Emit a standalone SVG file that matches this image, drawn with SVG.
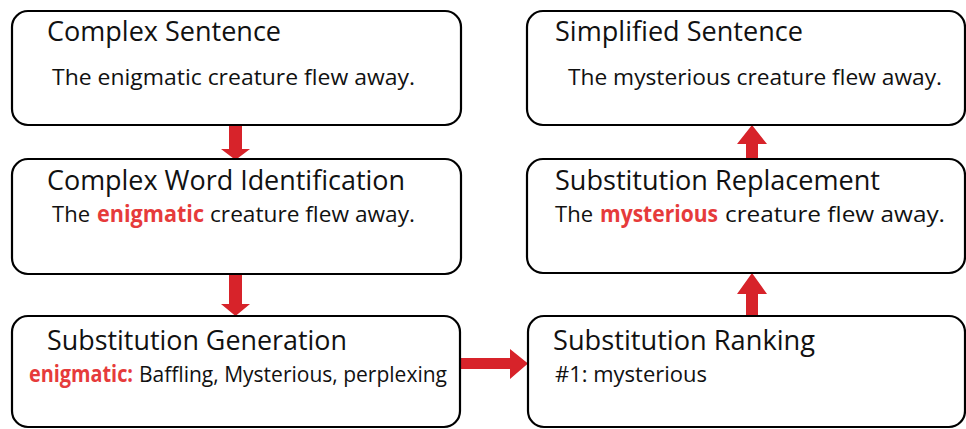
<svg xmlns="http://www.w3.org/2000/svg" width="966" height="429" viewBox="0 0 966 429">
  <style>
    .box { fill: #ffffff; stroke: #000000; stroke-width: 2.2; }
    .title { font-family: "Open Sans", "Noto Sans", sans-serif; font-size: 26.5px; fill: #111111; }
    .body { font-family: "Open Sans", "Noto Sans", sans-serif; font-size: 22.5px; fill: #111111; }
    .hl { font-family: "Open Sans", "Noto Sans", sans-serif; font-size: 22.5px; font-weight: bold; fill: #e63b3b; }
    .arrow { fill: #d7232a; stroke: none; }
  </style>
  <rect width="966" height="429" fill="#ffffff"/>
  <g id="connectors">
    <polygon class="arrow" points="229,124 242,124 242,149 250,149 235.5,160 221,149 229,149"/>
    <polygon class="arrow" points="229,273 242,273 242,304 250,304 235.5,316 221,304 229,304"/>
    <polygon class="arrow" points="460,358 510,358 510,349 528,363.5 510,379 510,369 460,369"/>
    <polygon class="arrow" points="746,317 758,317 758,294 767,294 752,273 737,294 746,294"/>
    <polygon class="arrow" points="746,160 758,160 758,144 767,144 752,125 737,144 746,144"/>
  </g>
  <g id="complex-sentence">
    <rect class="box" x="12" y="11" width="449" height="114" rx="16"/>
    <text class="title" x="47" y="41" textLength="234" lengthAdjust="spacingAndGlyphs">Complex Sentence</text>
    <text class="body" x="52" y="85" textLength="363" lengthAdjust="spacingAndGlyphs">The enigmatic creature flew away.</text>
  </g>
  <g id="complex-word-identification">
    <rect class="box" x="12" y="159" width="449" height="115" rx="16"/>
    <text class="title" x="47" y="190" textLength="358" lengthAdjust="spacingAndGlyphs">Complex Word Identification</text>
    <text class="body" x="52" y="222" textLength="38" lengthAdjust="spacingAndGlyphs">The</text>
    <text class="hl" x="97" y="222" textLength="107" lengthAdjust="spacingAndGlyphs">enigmatic</text>
    <text class="body" x="210" y="222" textLength="205" lengthAdjust="spacingAndGlyphs">creature flew away.</text>
  </g>
  <g id="substitution-generation">
    <rect class="box" x="12" y="316" width="448" height="111" rx="16"/>
    <text class="title" x="47" y="350" textLength="300" lengthAdjust="spacingAndGlyphs">Substitution Generation</text>
    <text class="hl" x="29" y="382" textLength="104" lengthAdjust="spacingAndGlyphs">enigmatic:</text>
    <text class="body" x="139" y="382" textLength="308" lengthAdjust="spacingAndGlyphs">Baffling, Mysterious, perplexing</text>
  </g>
  <g id="substitution-ranking">
    <rect class="box" x="528" y="316" width="437" height="111" rx="16"/>
    <text class="title" x="553" y="350" textLength="262" lengthAdjust="spacingAndGlyphs">Substitution Ranking</text>
    <text class="body" x="555" y="382" textLength="152" lengthAdjust="spacingAndGlyphs">#1: mysterious</text>
  </g>
  <g id="substitution-replacement">
    <rect class="box" x="527" y="159" width="438" height="114" rx="16"/>
    <text class="title" x="555" y="190" textLength="325" lengthAdjust="spacingAndGlyphs">Substitution Replacement</text>
    <text class="body" x="555" y="222" textLength="38" lengthAdjust="spacingAndGlyphs">The</text>
    <text class="hl" x="600" y="222" textLength="118" lengthAdjust="spacingAndGlyphs">mysterious</text>
    <text class="body" x="725" y="222" textLength="220" lengthAdjust="spacingAndGlyphs">creature flew away.</text>
  </g>
  <g id="simplified-sentence">
    <rect class="box" x="527" y="11" width="438" height="114" rx="16"/>
    <text class="title" x="555" y="41" textLength="248" lengthAdjust="spacingAndGlyphs">Simplified Sentence</text>
    <text class="body" x="568" y="85" textLength="374" lengthAdjust="spacingAndGlyphs">The mysterious creature flew away.</text>
  </g>
</svg>
